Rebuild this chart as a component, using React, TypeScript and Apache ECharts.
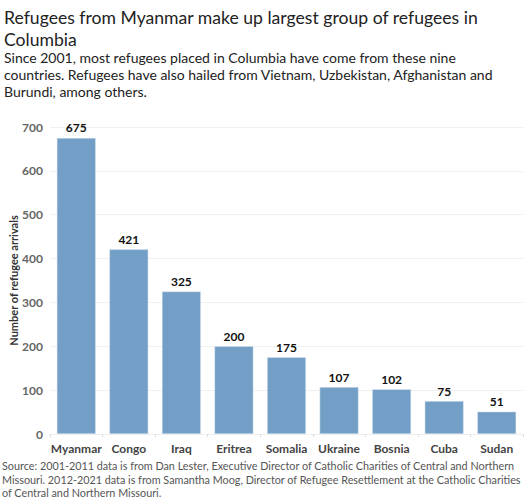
import React, { useEffect, useRef } from "react";
import * as echarts from "echarts";

// 국가별 난민 도착 수
const countries = ["Myanmar", "Congo", "Iraq", "Eritrea", "Somalia", "Ukraine", "Bosnia", "Cuba", "Sudan"];
const arrivals = [675, 421, 325, 200, 175, 107, 102, 75, 51];
const yTicks = [0, 100, 200, 300, 400, 500, 600, 700];

const titleText = "Refugees from Myanmar make up largest group of refugees in\nColumbia";
const subtitleText =
  "Since 2001, most refugees placed in Columbia have come from these nine\ncountries. Refugees have also hailed from Vietnam, Uzbekistan, Afghanistan and\nBurundi, among others.";
const sourceText =
  "Source: 2001-2011 data is from Dan Lester, Executive Director of Catholic Charities of Central and Northern\nMissouri. 2012-2021 data is from Samantha Moog, Director of Refugee Resettlement at the Catholic Charities\nof Central and Northern Missouri.";

const FONT = "Lato, 'Open Sans', sans-serif";

const App: React.FC = () => {
  const chartRef = useRef<HTMLDivElement | null>(null);

  useEffect(() => {
    if (chartRef.current) {
      const chart = echarts.init(chartRef.current, null, { renderer: "svg" });

      const option = {
        animation: false,
        backgroundColor: "#ffffff",
        textStyle: { fontFamily: FONT },
        graphic: [
          {
            type: "text",
            left: 4,
            top: 6,
            style: { text: titleText, font: `17.6px ${FONT}`, lineHeight: 22, fill: "#222" },
          },
          {
            type: "text",
            left: 4,
            top: 49,
            style: { text: subtitleText, font: `14px ${FONT}`, lineHeight: 17, fill: "#222" },
          },
          {
            type: "text",
            left: 2,
            top: 459,
            style: { text: sourceText, font: `10.8px ${FONT}`, lineHeight: 13.5, fill: "#555" },
          },
        ],
        grid: { left: 50, right: 4, top: 127, bottom: 66, outerBoundsMode: "none" },
        xAxis: {
          type: "category",
          data: countries,
          axisLine: { show: true, lineStyle: { color: "#eeeeee" } },
          axisTick: { show: true, length: 3, lineStyle: { color: "#dddddd" } },
          axisLabel: {
            interval: 0,
            color: "#444",
            fontWeight: "bold",
            fontSize: 12,
            margin: 8,
            fontFamily: FONT,
          },
        },
        yAxis: {
          type: "value",
          min: yTicks[0],
          max: yTicks[yTicks.length - 1],
          interval: 100,
          name: "Number of refugee arrivals",
          nameLocation: "middle",
          nameRotate: 90,
          nameGap: 31,
          nameMoveOverlap: false,
          nameTextStyle: { color: "#333", fontWeight: "bold", fontSize: 11, fontFamily: FONT },
          axisLine: { show: false },
          axisTick: { show: false },
          splitLine: { lineStyle: { color: "#f0f0f0" } },
          axisLabel: { color: "#666", fontWeight: "bold", fontSize: 12, margin: 7, fontFamily: FONT },
        },
        series: [
          {
            type: "bar",
            data: arrivals,
            barCategoryGap: "26%",
            itemStyle: { color: "#739fc6", borderColor: "#dce8f2", borderWidth: 0.5 },
            label: {
              show: true,
              position: "top",
              distance: 4,
              color: "#111",
              fontWeight: "bold",
              fontSize: 12,
              fontFamily: FONT,
            },
          },
        ],
      };

      chart.setOption(option);

      return () => {
        chart.dispose();
      };
    }
  }, []);

  return (
    <div
      ref={chartRef}
      style={{ position: "fixed", left: 0, top: 0, width: "527px", height: "500px" }}
    />
  );
};

export default App;
